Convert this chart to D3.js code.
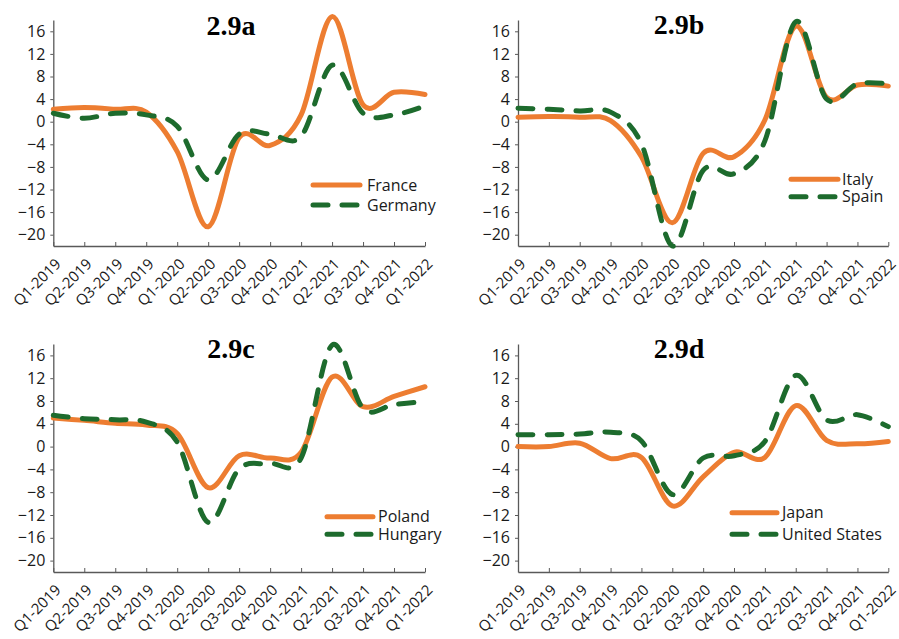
<!DOCTYPE html>
<html>
<head>
<meta charset="utf-8">
<script src="https://cdn.jsdelivr.net/npm/d3@7"></script>
<style>
  html, body { margin: 0; padding: 0; background: #fff; }
  svg { display: block; }
</style>
</head>
<body>
<svg id="chart" width="899" height="639"></svg>
<script>
// Quarterly real GDP growth, year on year (%)
const quarters = ["Q1-2019", "Q2-2019", "Q3-2019", "Q4-2019", "Q1-2020", "Q2-2020", "Q3-2020",
                  "Q4-2020", "Q1-2021", "Q2-2021", "Q3-2021", "Q4-2021", "Q1-2022"];
const yTicks = [-20, -16, -12, -8, -4, 0, 4, 8, 12, 16];

const france  = [2.2, 2.5, 2.2, 1.7, -5.3, -18.6, -2.8, -4.2, 1.2, 18.6, 3.0, 5.2, 4.8];
const germany = [1.5, 0.6, 1.5, 1.2, -0.8, -10.3, -2.2, -2.2, -2.6, 10.0, 1.5, 1.2, 2.8];
const italy   = [0.8, 0.9, 0.8, 0.2, -6.2, -17.9, -5.6, -6.2, 0.3, 16.9, 4.3, 6.5, 6.3];
const spain   = [2.4, 2.2, 1.9, 1.7, -3.9, -22.0, -8.6, -9.2, -3.4, 17.7, 4.0, 6.7, 6.7];
const poland  = [5.0, 4.6, 4.1, 3.8, 2.3, -7.2, -1.6, -2.0, -1.0, 12.2, 7.0, 8.8, 10.5];
const hungary = [5.5, 4.9, 4.7, 4.3, 0.8, -13.3, -3.9, -3.0, -2.0, 17.8, 6.7, 7.4, 7.9];
const japan   = [0.0, 0.0, 0.6, -2.1, -1.9, -10.4, -5.3, -1.0, -1.9, 7.2, 1.1, 0.5, 0.9];
const unitedStates = [2.1, 2.1, 2.2, 2.5, 1.0, -8.4, -2.0, -1.6, 0.9, 12.5, 4.7, 5.6, 3.5];

const ORANGE = "#ED7D31";
const GREEN = "#1D6B2D";
const AXIS = "#595959";
const FONT = "'Open Sans', 'Liberation Sans', sans-serif";

const panels = [
  { title: "2.9a", x0: 53.3, x1: 425, yTop: 20, yBot: 246, tx: 231, ty: 35,
    series: [{ name: "France", values: france }, { name: "Germany", values: germany }],
    leg: { x0: 313, x1: 360, tx: 367, y: [185, 205] } },
  { title: "2.9b", x0: 518, x1: 888.3, yTop: 20, yBot: 246, tx: 679, ty: 34,
    series: [{ name: "Italy", values: italy }, { name: "Spain", values: spain }],
    leg: { x0: 791, x1: 838, tx: 842, y: [179.3, 196.7] } },
  { title: "2.9c", x0: 53.3, x1: 425, yTop: 344, yBot: 572, tx: 231, ty: 358,
    series: [{ name: "Poland", values: poland }, { name: "Hungary", values: hungary }],
    leg: { x0: 327, x1: 373, tx: 378, y: [516.7, 534.3] } },
  { title: "2.9d", x0: 518, x1: 888.3, yTop: 344, yBot: 572, tx: 679, ty: 358,
    series: [{ name: "Japan", values: japan }, { name: "United States", values: unitedStates }],
    leg: { x0: 732, x1: 777, tx: 782, y: [512.7, 534.3] } }
];

const svg = d3.select("#chart");
const fmt = d => d < 0 ? "\u2212" + Math.abs(d) : String(d);

panels.forEach(p => {
  const g = svg.append("g");
  const x = d3.scalePoint().domain(quarters).range([p.x0, p.x1]);
  const y = d3.scaleLinear().domain([-22, 18]).range([p.yBot, p.yTop]);

  // y axis with short outward ticks
  const ya = g.append("g")
    .attr("transform", `translate(${p.x0},0)`)
    .call(d3.axisLeft(y).tickValues(yTicks).tickFormat(fmt).tickSize(3).tickSizeOuter(0).tickPadding(5));
  ya.select(".domain").attr("stroke", AXIS).attr("stroke-width", 1.3);
  ya.selectAll(".tick line").attr("stroke", AXIS);
  ya.selectAll("text").attr("font-family", FONT).attr("font-size", 16).attr("fill", "#1a1a1a");

  // x axis with short inward ticks and slanted quarter labels
  const xa = g.append("g")
    .attr("transform", `translate(0,${p.yBot})`)
    .call(d3.axisBottom(x).tickSize(-4).tickSizeOuter(0));
  xa.select(".domain").attr("stroke", AXIS).attr("stroke-width", 1.3);
  xa.selectAll(".tick line").attr("stroke", AXIS);
  xa.selectAll("text")
    .attr("font-family", FONT).attr("font-size", 15).attr("fill", "#1a1a1a")
    .attr("text-anchor", "end")
    .attr("dy", 0).attr("y", 0)
    .attr("transform", "translate(8,19) rotate(-45)");

  // smoothed series lines
  const line = d3.line()
    .x((d, i) => x(quarters[i]))
    .y(d => y(d))
    .curve(d3.curveCardinal.tension(0));

  p.series.forEach((s, k) => {
    g.append("path")
      .datum(s.values)
      .attr("d", line)
      .attr("fill", "none")
      .attr("stroke", k === 0 ? ORANGE : GREEN)
      .attr("stroke-width", 5)
      .attr("stroke-linecap", "round")
      .attr("stroke-linejoin", "round")
      .attr("stroke-dasharray", k === 0 ? null : "15,14");
  });

  // legend
  p.series.forEach((s, k) => {
    const ly = p.leg.y[k];
    g.append("line")
      .attr("x1", p.leg.x0).attr("x2", p.leg.x1)
      .attr("y1", ly).attr("y2", ly)
      .attr("stroke", k === 0 ? ORANGE : GREEN)
      .attr("stroke-width", 5)
      .attr("stroke-linecap", "round")
      .attr("stroke-dasharray", k === 0 ? null : "15,14");
    g.append("text")
      .attr("x", p.leg.tx).attr("y", ly + 5.5)
      .attr("font-family", FONT).attr("font-size", 16).attr("fill", "#1a1a1a")
      .text(s.name);
  });

  // panel title
  g.append("text")
    .attr("x", p.tx).attr("y", p.ty)
    .attr("text-anchor", "middle")
    .attr("font-family", "'Liberation Serif', 'Times New Roman', serif")
    .attr("font-weight", "bold").attr("font-size", 28)
    .attr("fill", "#000")
    .text(p.title);
});
</script>
</body>
</html>
